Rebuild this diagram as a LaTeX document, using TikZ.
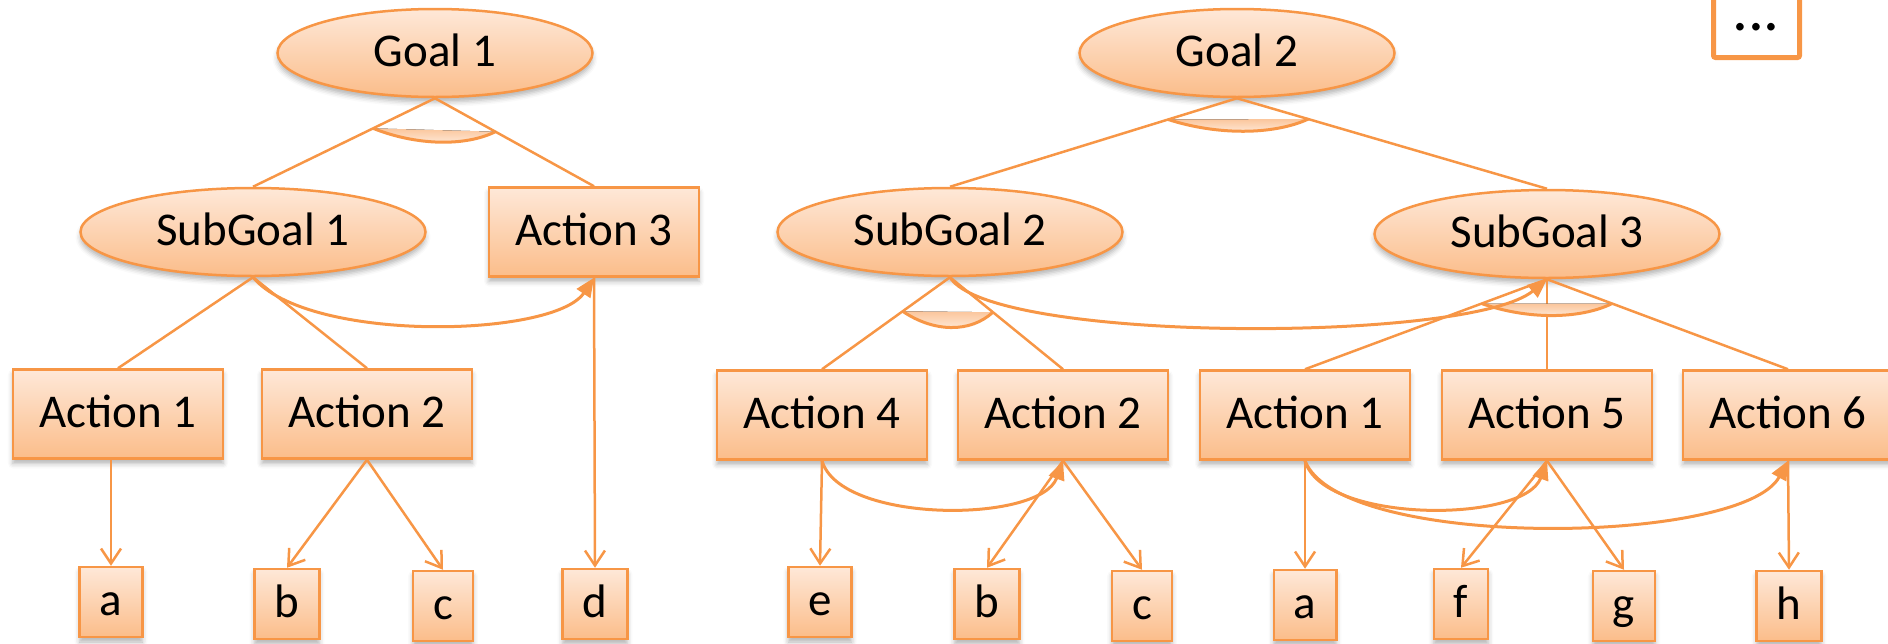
\documentclass[tikz,border=0pt]{standalone}
\usepackage{fontspec}
\setmainfont{Carlito}
\usetikzlibrary{shapes.geometric,arrows.meta,calc,shadows.blur}
\definecolor{acc}{HTML}{F79646}
\definecolor{peachtop}{HTML}{FEE8D8}
\definecolor{peachbot}{HTML}{FBBD8A}
\definecolor{lenstop}{HTML}{FBC69C}
\definecolor{lensbot}{HTML}{FFF0E4}
\newcommand{\diagfont}{\fontsize{47}{56}\selectfont}
% AND-arc: a lens between two points on sibling links, stroked on its lower side
\newcommand{\andarc}[3]{%
  \fill[lensfill] (#1) -- (#2)
    .. controls ($(#2)!0.25!(#1)+(0,#3)$) and ($(#1)!0.35!(#2)+(0,#3)$) .. (#1) -- cycle;
  \draw[lensline] (#1)
    .. controls ($(#1)!0.35!(#2)+(0,#3)$) and ($(#2)!0.25!(#1)+(0,#3)$) .. (#2);}

\begin{document}
\begin{tikzpicture}[x=1pt,y=-1pt,
  nodebox/.style={draw=acc, line width=2.5pt, top color=peachtop, bottom color=peachbot,
    font=\diagfont, text height=36pt, text depth=10pt, inner sep=0pt,
    blur shadow={shadow xshift=0pt, shadow yshift=-5pt, shadow blur radius=5pt, shadow opacity=30}},
  gnode/.style={nodebox, ellipse, minimum height=88pt},
  anode/.style={nodebox, rectangle, minimum width=210pt, minimum height=89pt},
  lnode/.style={nodebox, rectangle, inner xsep=20pt, minimum height=70pt},
  conn/.style={draw=acc, line width=2.5pt},
  conarr/.style={conn, -{Straight Barb[length=15pt,width=20pt]}},
  ordarr/.style={draw=acc, line width=3pt, -{Triangle[length=19pt,width=16pt]}},
  lensfill/.style={top color=lenstop, bottom color=lensbot},
  lensline/.style={draw=acc, line width=3pt}]

\useasboundingbox (0,0) rectangle (1888,643);
\clip (0,0) rectangle (1888,643);

% ---- first tree ----
\node[gnode, minimum width=315pt] (g1) at (435,53) {Goal 1};
\node[gnode, minimum width=345pt] (sg1) at (253,232) {SubGoal 1};
\node[anode] (a3) at (594,232) {Action 3};
\node[anode] (a1) at (118,414) {Action 1};
\node[anode] (a2) at (367,414) {Action 2};
\node[lnode] (la) at (111,602) {a};
\node[lnode] (lb) at (287,604) {b};
\node[lnode] (lc) at (443,606) {c};
\node[lnode] (ld) at (595,604) {d};

% ---- second tree ----
\node[gnode, minimum width=315pt] (g2) at (1237,53) {Goal 2};
\node[gnode, minimum width=345pt] (sg2) at (950,232) {SubGoal 2};
\node[gnode, minimum width=345pt] (sg3) at (1547,234) {SubGoal 3};
\node[anode] (a4) at (822,415) {Action 4};
\node[anode] (a2r) at (1063,415) {Action 2};
\node[anode] (a1r) at (1305,415) {Action 1};
\node[anode] (a5) at (1547,415) {Action 5};
\node[anode] (a6) at (1788,415) {Action 6};
\node[lnode] (le) at (820,602) {e};
\node[lnode] (lbr) at (987,604) {b};
\node[lnode] (lcr) at (1142,606) {c};
\node[lnode] (lar) at (1305,605) {a};
\node[lnode] (lf) at (1461,604) {f};
\node[lnode] (lg) at (1624,606) {g};
\node[lnode] (lh) at (1789,606) {h};

% ---- more trees: open-topped frame running off the top edge ----
\draw[acc, line width=5pt, rounded corners=2pt, fill=white]
  (1713.5,-12) -- (1713.5,57.5) -- (1799.5,57.5) -- (1799.5,-12);
\node[inner sep=0pt, font=\fontsize{63}{70}\selectfont] (more) at (1756,27) {...};

% ---- decomposition links ----
\draw[conn] (g1.south) -- (sg1.north);
\draw[conn] (g1.south) -- (a3.north);
\draw[conn] (sg1.south) -- (a1.north);
\draw[conn] (sg1.south) -- (a2.north);
\draw[conn] (g2.south) -- (sg2.north);
\draw[conn] (g2.south) -- (sg3.north);
\draw[conn] (sg2.south) -- (a4.north);
\draw[conn] (sg2.south) -- (a2r.north);
\draw[conn] (sg3.south) -- (a1r.north);
\draw[conn] (sg3.south) -- (a5.north);
\draw[conn] (sg3.south) -- (a6.north);

% ---- AND arcs ----
\coordinate (and1l) at ($(g1.south)!0.34!(sg1.north)$);
\coordinate (and1r) at ($(g1.south)!0.38!(a3.north)$);
\andarc{and1l}{and1r}{16}
\coordinate (and2l) at ($(g2.south)!0.24!(sg2.north)$);
\coordinate (and2r) at ($(g2.south)!0.23!(sg3.north)$);
\andarc{and2l}{and2r}{16}
\coordinate (and3l) at ($(sg2.south)!0.37!(a4.north)$);
\coordinate (and3r) at ($(sg2.south)!0.38!(a2r.north)$);
\andarc{and3l}{and3r}{21}
\coordinate (and4l) at ($(sg3.south)!0.27!(a1r.north)$);
\coordinate (and4r) at ($(sg3.south)!0.27!(a6.north)$);
\andarc{and4l}{and4r}{16}

% ---- effects ----
\draw[conarr] (la.north |- a1.south) -- (la.north);
\draw[conarr] (a2.south) -- (lb.north);
\draw[conarr] (a2.south) -- (lc.north);
\draw[conarr] (a3.south) -- (ld.north);
\draw[conarr] (a4.south) -- (le.north);
\draw[conarr] (a2r.south) -- (lbr.north);
\draw[conarr] (a2r.south) -- (lcr.north);
\draw[conarr] (a1r.south) -- (lar.north);
\draw[conarr] (a5.south) -- (lf.north);
\draw[conarr] (a5.south) -- (lg.north);
\draw[conarr] (a6.south) -- (lh.north);

% ---- ordering constraints ----
\draw[ordarr] (sg1.south) .. controls +(55,66) and +(-40,60) .. (a3.south);
\draw[ordarr] (sg2.south) .. controls +(40,66) and +(-77,64) .. (sg3.south);
\draw[ordarr] (a4.south) .. controls +(18,63) and +(-23,63) .. (a2r.south);
\draw[ordarr] (a1r.south) .. controls +(18,63) and +(-23,63) .. (a5.south);
\draw[ordarr] (a1r.south) .. controls +(35,90) and +(-46,85) .. (a6.south);
\end{tikzpicture}
\end{document}
